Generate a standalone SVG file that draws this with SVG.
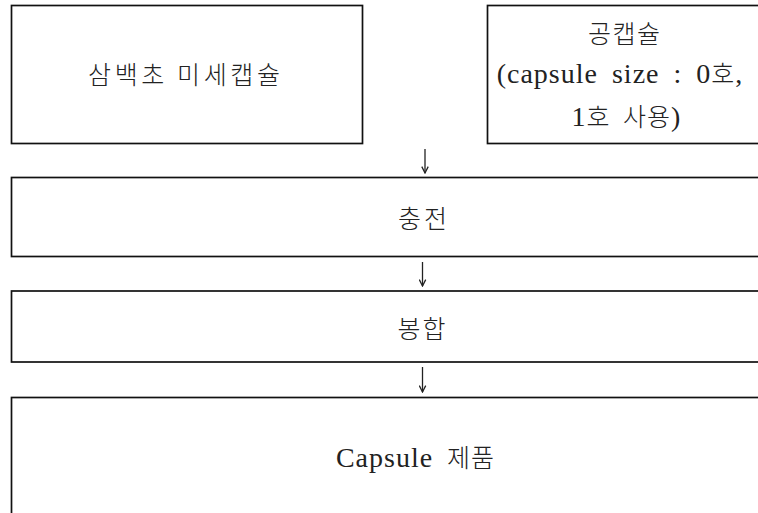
<svg xmlns="http://www.w3.org/2000/svg" width="758" height="513" viewBox="0 0 758 513">
<style>
.box{fill:#fff;stroke:#111;stroke-width:1.7}
.t{font-family:"Liberation Serif","Noto Sans CJK KR",serif;font-size:28px;letter-spacing:1px;word-spacing:6px;fill:#222;text-anchor:middle}
.h{font-family:"Noto Sans CJK KR",sans-serif;font-size:25px;font-weight:300}
.k{font-family:"Noto Sans CJK KR","Liberation Serif",serif;font-size:25px;font-weight:300;fill:#222;text-anchor:middle}
.c{stroke:#222;stroke-width:1.3;fill:none}
</style>
<defs>
<marker id="ah" viewBox="0 0 10 10" refX="9" refY="5" markerWidth="8" markerHeight="8" markerUnits="userSpaceOnUse" orient="auto">
<path d="M1,1 L9,5 L1,9" fill="none" stroke="#222" stroke-width="1.6"/>
</marker>
</defs>
<rect width="758" height="513" fill="#fff"/>
<g id="n1">
<rect class="box" x="11.5" y="5.5" width="351" height="138"/>
<text class="k" x="184" y="84" textLength="192" lengthAdjust="spacing">삼백초 미세캡슐</text>
</g>
<g id="n2">
<rect class="box" x="487.5" y="5.5" width="320" height="138"/>
<text class="k" x="624" y="43" textLength="72" lengthAdjust="spacing">공캡슐</text>
<text class="t" x="620" y="83">(capsule size : 0<tspan class="h">호</tspan>,</text>
<text class="t" x="626.5" y="126">1<tspan class="h">호 사용</tspan>)</text>
</g>
<g id="n3">
<rect class="box" x="11.5" y="177.5" width="820" height="79"/>
<text class="k" x="422.5" y="228" textLength="49" lengthAdjust="spacing">충전</text>
</g>
<g id="n4">
<rect class="box" x="11.5" y="291" width="820" height="71"/>
<text class="k" x="421.5" y="338" textLength="48" lengthAdjust="spacing">봉합</text>
</g>
<g id="n5">
<rect class="box" x="11.5" y="397.5" width="820" height="200"/>
<text class="t" x="415.5" y="467">Capsule <tspan class="h">제품</tspan></text>
</g>
<g id="connectors">
<line class="c" x1="425" y1="149" x2="425" y2="173" marker-end="url(#ah)"/>
<line class="c" x1="422.5" y1="262" x2="422.5" y2="286" marker-end="url(#ah)"/>
<line class="c" x1="422.5" y1="367" x2="422.5" y2="392" marker-end="url(#ah)"/>
</g>
</svg>
